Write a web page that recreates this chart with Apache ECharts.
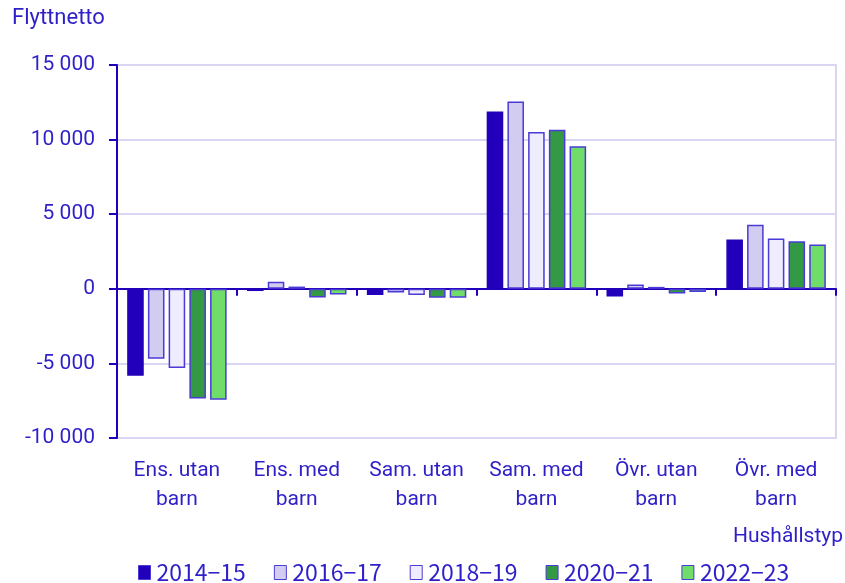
<!DOCTYPE html>
<html>
<head>
<meta charset="utf-8">
<script src="https://cdn.jsdelivr.net/npm/echarts@6/dist/echarts.min.js"></script>
<style>
  html, body { margin: 0; padding: 0; background: #fff; }
  #main { width: 845px; height: 583px; }
</style>
</head>
<body>
<div id="main"></div>
<script>
// kategorier och värden
var categories = ['Ens. utan\nbarn', 'Ens. med\nbarn', 'Sam. utan\nbarn', 'Sam. med\nbarn', 'Övr. utan\nbarn', 'Övr. med\nbarn'];
var periods = ['2014−15', '2016−17', '2018−19', '2020−21', '2022−23'];
var v2014_15 = [-5820, -150, -420, 11890, -510, 3300];
var v2016_17 = [-4690, 470, -240, 12560, 290, 4300];
var v2018_19 = [-5310, 150, -420, 10510, 130, 3370];
var v2020_21 = [-7360, -580, -600, 10660, -310, 3190];
var v2022_23 = [-7430, -380, -600, 9550, -220, 2970];
var yTicks = [-10000, -5000, 0, 5000, 10000, 15000];

var textColor = '#2e1fc8';
var colors = ['#2200bb', '#d2cdf0', '#eeecfd', '#339944', '#70dd6a'];
var allData = [v2014_15, v2016_17, v2018_19, v2020_21, v2022_23];

var myChart = echarts.init(document.getElementById('main'));

function fmt(v) {
    var s = Math.abs(v).toString().replace(/\B(?=(\d{3})+(?!\d))/g, ' ');
    return (v < 0 ? '-' : '') + s;
}

var series = periods.map(function (p, i) {
    return {
        name: p,
        type: 'bar',
        xAxisIndex: 0,
        barGap: '25%',
        barCategoryGap: '17%',
        itemStyle: {
            color: colors[i],
            borderColor: i === 0 ? '#2200bb' : '#4b3bd6',
            borderWidth: 1.5
        },
        data: allData[i]
    };
});

myChart.setOption({
    color: colors,
    textStyle: { fontFamily: 'Roboto', color: textColor },
    grid: {
        left: 117, right: 9, top: 65, bottom: 145,
        show: true, borderColor: '#d8d6f2', borderWidth: 2
    },
    legend: {
        bottom: -6,
        left: 133,
        itemWidth: 12,
        itemHeight: 14,
        itemGap: 28,
        icon: 'rect',
        data: periods,
        textStyle: { fontFamily: 'Noto Sans CJK JP', fontSize: 23, color: textColor, padding: [0, 0, 0, 1] },
        itemStyle: { borderColor: '#4b3bd6', borderWidth: 1 }
    },
    graphic: [
        { type: 'text', left: 12, top: 7, style: { text: 'Flyttnetto', fontFamily: 'Roboto', fontSize: 22, fill: textColor } },
        { type: 'text', right: 2, top: 526, style: { text: 'Hushållstyp', fontFamily: 'Roboto', fontSize: 21, fill: textColor } }
    ],
    xAxis: [
        {
            type: 'category',
            data: categories,
            position: 'bottom',
            axisLine: { show: false, onZero: false },
            axisTick: { show: false },
            axisLabel: { interval: 0, fontSize: 21, color: textColor, lineHeight: 29, margin: 18, fontFamily: 'Roboto' }
        },
        {
            type: 'category',
            data: categories,
            position: 'bottom',
            axisLine: { show: true, onZero: true, lineStyle: { color: '#2200bb', width: 2 } },
            axisTick: { show: true, length: 7, lineStyle: { color: '#2200bb', width: 2 } },
            axisLabel: { show: false }
        }
    ],
    yAxis: {
        type: 'value',
        min: -10000,
        max: 15000,
        interval: 5000,
        axisLine: { show: true, lineStyle: { color: '#2200bb', width: 2 } },
        axisTick: { show: true, length: 8, lineStyle: { color: '#2200bb', width: 2 } },
        splitLine: { lineStyle: { color: '#d8d6f2', width: 2 } },
        axisLabel: {
            fontSize: 21, color: textColor, margin: 22, fontFamily: 'Roboto',
            formatter: function (v) { return yTicks.indexOf(v) >= 0 ? fmt(v) : ''; }
        }
    },
    series: series
});
</script>
</body>
</html>
